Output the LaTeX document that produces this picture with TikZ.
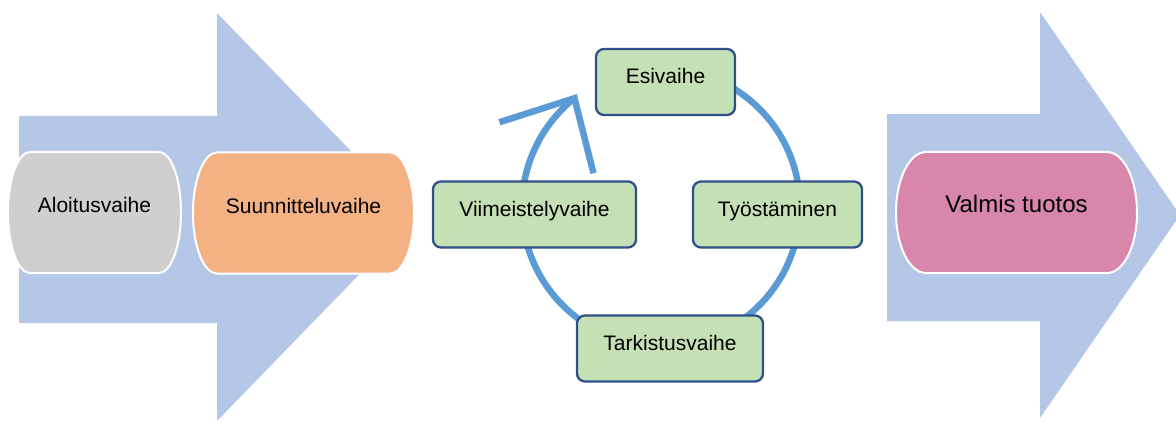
\documentclass[tikz,border=0pt]{standalone}
\usepackage{fontspec}
\setmainfont{Liberation Sans}
\usetikzlibrary{calc}

\definecolor{arrowblue}{HTML}{B4C7E7}
\definecolor{capgray}{HTML}{D0CECE}
\definecolor{caporange}{HTML}{F4B183}
\definecolor{cappink}{HTML}{D886AB}
\definecolor{boxgreen}{HTML}{C5E0B4}
\definecolor{boxline}{HTML}{31508A}
\definecolor{cycleblue}{HTML}{5B9BD5}

\pgfdeclarelayer{arrows}
\pgfdeclarelayer{caps}
\pgfsetlayers{arrows,caps,main}

% capsule outline around a phase node: flat top and bottom, elliptic ends
\newcommand{\capsule}[3]{%
  \filldraw[fill=#2, draw=white, line width=2pt]
    ($(#1.north west)+(#3,0)$) -- ($(#1.north east)+(-#3,0)$)
    arc[start angle=90, end angle=-90, x radius=#3, y radius=60.5]
    -- ($(#1.south west)+(#3,0)$)
    arc[start angle=270, end angle=90, x radius=#3, y radius=60.5] -- cycle;}

\begin{document}
\begin{tikzpicture}[x=1pt,y=1pt,
  phase/.style={inner sep=0pt, outer sep=0pt, minimum height=121pt,
    text height=15pt, text depth=14pt, font=\fontsize{21}{25}\selectfont},
  stepbox/.style={draw=boxline, line width=2.3pt, fill=boxgreen,
    rounded corners=8pt, minimum height=66pt, text height=15pt,
    text depth=11pt, font=\fontsize{21}{25}\selectfont},
  bigarrow/.style={fill=arrowblue},
  cyc/.style={draw=cycleblue, line width=6.5pt}]

\useasboundingbox (0,0) rectangle (1176,421);
\clip (0,0) rectangle (1176,421);

% phase labels
\node[phase, minimum width=173pt] (alo) at (94.5,208.5) {Aloitusvaihe};
\node[phase, minimum width=221pt] (suu) at (303.5,208) {Suunnitteluvaihe};
\node[phase, minimum width=241pt, text height=17pt, text depth=16pt,
  font=\fontsize{24}{28}\selectfont] (val) at (1016.5,208.5) {Valmis tuotos};

% large block arrows
\begin{pgfonlayer}{arrows}
  \fill[bigarrow] (19,305) -- (217,305) -- (217,408) -- (415,204)
    -- (217,0) -- (217,98) -- (19,98) -- cycle;
  \fill[bigarrow] (887,307) -- (1040,307) -- (1040,409) -- (1180,206)
    -- (1040,3) -- (1040,100) -- (887,100) -- cycle;
\end{pgfonlayer}

% capsule shapes
\begin{pgfonlayer}{caps}
  \capsule{alo}{capgray}{22}
  \capsule{suu}{caporange}{24}
  \capsule{val}{cappink}{30}
\end{pgfonlayer}

% work cycle
\coordinate (cc) at (661,214);
\draw[cyc] ($(cc)+(100:139)$) arc[start angle=100, end angle=-231.5, radius=139]
  coordinate (tip);
\draw[cyc, line join=miter] ($(tip)+(-75,-24)$) -- (tip) -- ($(tip)+(19,-75)$);

\node[stepbox, minimum width=139pt] (esi) at (665.5,339) {Esivaihe};
\node[stepbox, minimum width=203pt] (vii) at (534.5,206.5) {Viimeistelyvaihe};
\node[stepbox, minimum width=169pt] (tyo) at (777.5,206.5) {Työstäminen};
\node[stepbox, minimum width=186pt] (tar) at (670,72.5) {Tarkistusvaihe};

\end{tikzpicture}
\end{document}
